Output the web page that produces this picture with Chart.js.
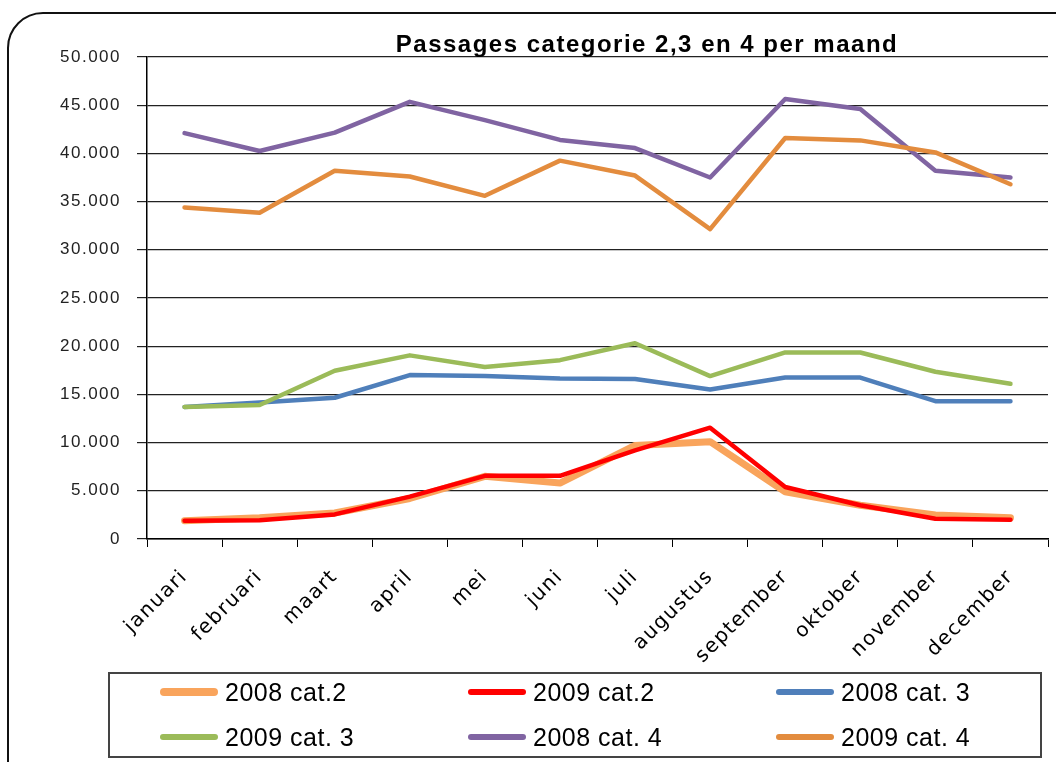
<!DOCTYPE html>
<html>
<head>
<meta charset="utf-8">
<script src="https://cdn.jsdelivr.net/npm/chart.js@4.4.1/dist/chart.umd.min.js"></script>
<style>
    html, body { margin: 0; padding: 0; background: #fff; overflow: hidden; }
    #wrap { position: relative; width: 1056px; height: 762px; overflow: hidden; }
    #frame { position: absolute; left: 7px; top: 12px; width: 1090px; height: 800px; border: 2px solid #111; border-radius: 36px; }
    #chart { position: absolute; left: 0; top: 0; }
    #legend { position: absolute; left: 108px; top: 672px; width: 934px; height: 86px; box-sizing: border-box;
              border: 2px solid #444; font-family: "Liberation Sans", Arial, sans-serif; font-size: 25px;
              letter-spacing: 0.5px; color: #000; }
    .item { position: absolute; display: flex; align-items: center; height: 30px; white-space: nowrap; }
    .swatch { width: 58px; height: 6px; border-radius: 3px; margin-right: 7px; }
</style>
</head>
<body>
<div id="wrap">
    <div id="frame"></div>
    <canvas id="chart" width="1056" height="762"></canvas>
    <div id="legend"></div>
</div>
<script>
// maanden en waarden
const months = ['januari', 'februari', 'maart', 'april', 'mei', 'juni', 'juli', 'augustus', 'september', 'oktober', 'november', 'december'];
const yTickLabels = ['0', '5.000', '10.000', '15.000', '20.000', '25.000', '30.000', '35.000', '40.000', '45.000', '50.000'];
const seriesNames = ['2008 cat.2', '2009 cat.2', '2008 cat. 3', '2009 cat. 3', '2008 cat. 4', '2009 cat. 4'];

const cat2_2008 = [1900, 2200, 2700, 4200, 6500, 5800, 9700, 10100, 4900, 3500, 2500, 2200];
const cat2_2009 = [1900, 1950, 2550, 4400, 6550, 6550, 9200, 11550, 5400, 3500, 2100, 2000];
const cat3_2008 = [13700, 14150, 14650, 17000, 16900, 16650, 16600, 15500, 16750, 16750, 14300, 14300];
const cat3_2009 = [13700, 13900, 17450, 19050, 17850, 18550, 20300, 16900, 19350, 19350, 17350, 16100];
const cat4_2008 = [42100, 40250, 42150, 45350, 43450, 41400, 40550, 37500, 45650, 44600, 38200, 37500];
const cat4_2009 = [34400, 33850, 38200, 37600, 35600, 39250, 37700, 32150, 41600, 41350, 40100, 36800];

const seriesValues = [cat2_2008, cat2_2009, cat3_2008, cat3_2009, cat4_2008, cat4_2009];
const seriesColors = ['#F9A45C', '#FF0000', '#4F7FBA', '#9BBB59', '#8064A2', '#E38C3E'];
const seriesWidths = [7, 4.5, 4.5, 4.5, 4.5, 4.5];

function buildLegend() {
    const legend = document.getElementById('legend');
    seriesNames.forEach((name, i) => {
        const item = document.createElement('div');
        item.className = 'item';
        item.style.left = (50 + (i % 3) * 308) + 'px';
        item.style.top = (Math.floor(i / 3) === 0 ? 3 : 48) + 'px';
        const sw = document.createElement('span');
        sw.className = 'swatch';
        sw.style.background = seriesColors[i];
        if (i === 0) { sw.style.height = '8px'; sw.style.borderRadius = '4px'; }
        const txt = document.createElement('span');
        txt.textContent = name;
        item.appendChild(sw);
        item.appendChild(txt);
        legend.appendChild(item);
    });
}

const textTweaks = {
    id: 'textTweaks',
    beforeUpdate(chart) { chart.ctx.letterSpacing = '1.5px'; },
    beforeDraw(chart) { chart.ctx.letterSpacing = '1.5px'; },
    afterLayout(chart) {
        // titel staat iets rechts van het midden
        chart.titleBlock.left += 123;
        chart.titleBlock.right += 123;
    }
};

function drawChart() {
    const ctx = document.getElementById('chart').getContext('2d');

    const datasets = seriesNames.map((name, i) => ({
        label: name,
        data: seriesValues[i],
        borderColor: seriesColors[i],
        backgroundColor: seriesColors[i],
        borderWidth: seriesWidths[i],
        pointRadius: 0,
        tension: 0,
        borderCapStyle: 'round',
        borderJoinStyle: 'round',
        fill: false,
        order: seriesNames.length - 1 - i
    }));

    new Chart(ctx, {
        type: 'line',
        data: { labels: months, datasets: datasets },
        options: {
            responsive: false,
            animation: false,
            layout: { padding: { left: 0, right: 8, top: 0, bottom: 0 }, autoPadding: false },
            plugins: {
                legend: { display: false },
                tooltip: { enabled: false },
                title: {
                    display: true,
                    text: 'Passages categorie 2,3 en 4 per maand',
                    color: '#000',
                    font: { family: 'Liberation Sans', size: 24, weight: 'bold', lineHeight: 1 },
                    padding: { top: 33, bottom: 0 }
                }
            },
            scales: {
                x: {
                    offset: true,
                    grid: { offset: true, drawOnChartArea: false, drawTicks: true, tickLength: 8, color: '#000', lineWidth: 1 },
                    border: { display: true, color: '#000', width: 1.5 },
                    ticks: {
                        autoSkip: false, minRotation: 45, maxRotation: 45, padding: 18, color: '#000',
                        font: { family: 'DejaVu Sans', size: 20 }
                    },
                    afterFit(scale) { scale.height = 223; }
                },
                y: {
                    min: 0,
                    max: 50000,
                    grid: { color: '#222', lineWidth: 1.2, drawTicks: true, tickLength: 10 },
                    border: { display: true, color: '#000', width: 1.5 },
                    ticks: {
                        stepSize: 5000, padding: 16, color: '#222',
                        font: { family: 'Liberation Sans', size: 17 },
                        callback: (value, index) => yTickLabels[index]
                    },
                    afterFit(scale) { scale.width = 147; }
                }
            }
        },
        plugins: [textTweaks]
    });
}

buildLegend();
drawChart();
</script>
</body>
</html>
